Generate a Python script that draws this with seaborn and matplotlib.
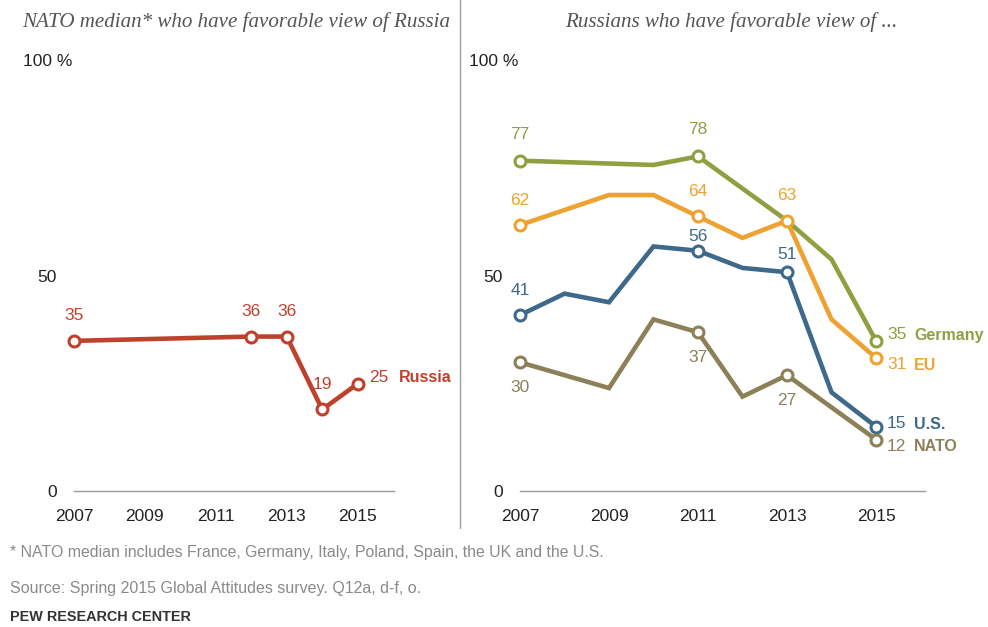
import numpy as np
import pandas as pd
import matplotlib
matplotlib.use("Agg")
import matplotlib.pyplot as plt
import seaborn as sns

sns.set_theme(style="white")
plt.rcParams["font.family"] = ["Liberation Sans", "DejaVu Sans"]

# ---------------- data ----------------
years_ticks = [2007, 2009, 2011, 2013, 2015]

russia_years = [2007, 2012, 2013, 2014, 2015]
russia_vals = [35, 36, 36, 19, 25]
russia_labeled = [2007, 2012, 2013, 2014, 2015]

germany_years = [2007, 2010, 2011, 2013, 2014, 2015]
germany_vals = [77, 76, 78, 63, 54, 35]
germany_labeled = [2007, 2011, 2015]

eu_years = [2007, 2009, 2010, 2011, 2012, 2013, 2014, 2015]
eu_vals = [62, 69, 69, 64, 59, 63, 40, 31]
eu_labeled = [2007, 2011, 2013, 2015]

us_years = [2007, 2008, 2009, 2010, 2011, 2012, 2013, 2014, 2015]
us_vals = [41, 46, 44, 57, 56, 52, 51, 23, 15]
us_labeled = [2007, 2011, 2013, 2015]

nato_years = [2007, 2009, 2010, 2011, 2012, 2013, 2015]
nato_vals = [30, 24, 40, 37, 22, 27, 12]
nato_labeled = [2007, 2011, 2013, 2015]

left_title = "NATO median* who have favorable view of Russia"
right_title = "Russians who have favorable view of ..."
footnote = "* NATO median includes France, Germany, Italy, Poland, Spain, the UK and the U.S."
source = "Source: Spring 2015 Global Attitudes survey. Q12a, d-f, o."
credit = "PEW RESEARCH CENTER"

# ---------------- style ----------------
colors = {"Russia": "#C0412B", "Germany": "#8EA040", "EU": "#EDA232",
          "U.S.": "#3F698A", "NATO": "#8C8059"}
# vertical offset (pt) of intermediate labels; negative = below
label_dy = {"Russia": 18, "Germany": 19, "EU": 18, "U.S.": 17.5, "NATO": -18.5}
label_dy_special = {("U.S.", 2011): 10.5, ("U.S.", 2013): 13}
end_dy = {"Russia": 4.5, "Germany": 4.5, "EU": -5, "U.S.": 2, "NATO": -5}
name_dx = {"Russia": 21.5, "Germany": 19.5, "EU": 19.5, "U.S.": 19.5, "NATO": 19.5}

W, H = 988, 627
fig = plt.figure(figsize=(W / 100, H / 100), dpi=100)
fig.patch.set_facecolor("white")


def px_axes(x0, x1, ytop, ybot):
    return fig.add_axes([x0 / W, 1 - ybot / H, (x1 - x0) / W, (ybot - ytop) / H])


axL = px_axes(74, 394, 62, 491)
axR = px_axes(520, 925, 62, 491)
axL.set_xlim(2007, 2007 + (394 - 74) / 35.46)
axR.set_xlim(2007, 2007 + (925 - 520) / 44.5)


def draw_series(ax, name, yrs, vals, labeled):
    df = pd.DataFrame({"year": yrs, "value": vals, "series": name})
    sns.lineplot(data=df, x="year", y="value", ax=ax, color=colors[name],
                 lw=3.3, legend=False, solid_capstyle="round",
                 solid_joinstyle="miter", zorder=3)
    lab = df[df["year"].isin(labeled)]
    sns.scatterplot(data=lab, x="year", y="value", ax=ax, s=62,
                    facecolor="white", edgecolor=colors[name], linewidth=2.2,
                    legend=False, zorder=4, clip_on=False)
    last = max(yrs)
    for y, v in zip(yrs, vals):
        if y not in labeled:
            continue
        if y == last:
            ax.annotate(f"{v}", (y, v), xytext=(8, end_dy[name]),
                        textcoords="offset points", ha="left", va="center",
                        color=colors[name], fontsize=12.5)
            ax.annotate(name, (y, v), xytext=(8 + name_dx[name], end_dy[name] - 0.3),
                        textcoords="offset points", ha="left", va="center",
                        color=colors[name], fontsize=11.5, fontweight="bold")
        else:
            dy = label_dy_special.get((name, y), label_dy[name])
            ax.annotate(f"{v}", (y, v), xytext=(0, dy),
                        textcoords="offset points", ha="center", va="center",
                        color=colors[name], fontsize=12.5)


draw_series(axL, "Russia", russia_years, russia_vals, russia_labeled)
draw_series(axR, "Germany", germany_years, germany_vals, germany_labeled)
draw_series(axR, "EU", eu_years, eu_vals, eu_labeled)
draw_series(axR, "U.S.", us_years, us_vals, us_labeled)
draw_series(axR, "NATO", nato_years, nato_vals, nato_labeled)

for ax in (axL, axR):
    ax.set_ylim(0, 100)
    ax.set_facecolor("none")
    for s in ("top", "right", "left"):
        ax.spines[s].set_visible(False)
    ax.spines["bottom"].set_color("#9a9a9a")
    ax.spines["bottom"].set_linewidth(1.0)
    ax.set_xticks(years_ticks)
    ax.set_xticklabels([str(y) for y in years_ticks])
    ax.set_yticks([0, 50])
    ax.set_yticklabels(["0", "50"])
    ax.tick_params(axis="x", length=0, pad=13, labelsize=12.5, labelcolor="#222222")
    ax.tick_params(axis="y", length=0, pad=12.5, labelsize=12.5, labelcolor="#222222")
    ax.set_xlabel("")
    ax.set_ylabel("")
    ax.grid(False)
    ax.text(-0.005, 100, "100 %", transform=ax.get_yaxis_transform(),
            ha="right", va="center", fontsize=12.5, color="#222222")

# divider
fig.add_artist(plt.Line2D([460 / W, 460 / W], [1, 1 - 528 / H],
                          color="#a0a0a0", lw=1.0, transform=fig.transFigure))

# titles
tL = fig.text(22 / W, 1 - 22 / H, left_title, ha="left", va="center",
              fontsize=14, style="italic", color="#555555",
              family=["Liberation Serif", "DejaVu Serif"])
tR = fig.text(731 / W, 1 - 22 / H, right_title, ha="center", va="center",
              fontsize=14, style="italic", color="#555555",
              family=["Liberation Serif", "DejaVu Serif"])

f1 = fig.text(10 / W, 1 - 553 / H, footnote, ha="left", va="center",
              fontsize=11, color="#8a8a8a")
f2 = fig.text(10 / W, 1 - 588 / H, source, ha="left", va="center",
              fontsize=11, color="#8a8a8a")
f3 = fig.text(10 / W, 1 - 617 / H, credit, ha="left", va="center",
              fontsize=10, color="#333333", fontweight="bold")

# fit text widths to the reference layout
fig.canvas.draw()
r = fig.canvas.get_renderer()
for t, target in ((tL, 428), (f1, 590), (f2, 408), (f3, 180)):
    w = t.get_window_extent(r).width
    t.set_fontsize(t.get_fontsize() * target / w)
tR.set_fontsize(tL.get_fontsize())

fig.savefig("out.png", dpi=100, facecolor="white")
